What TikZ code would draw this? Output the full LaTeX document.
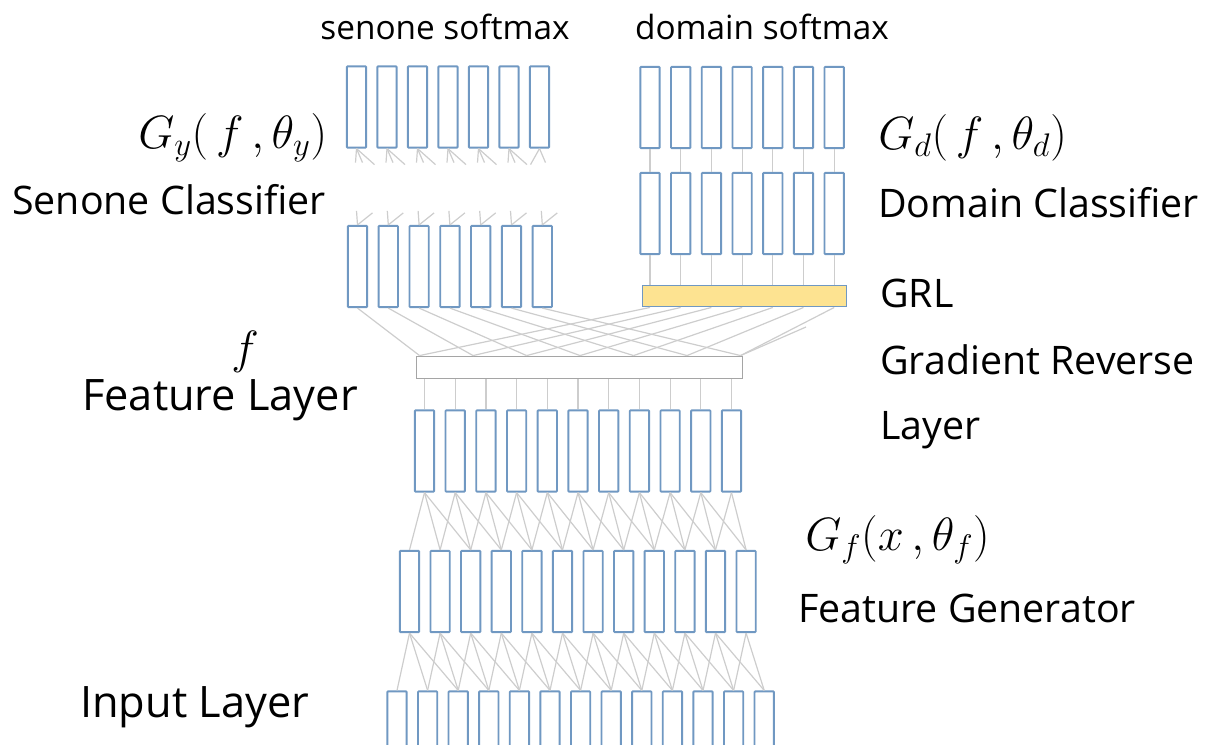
\RequirePackage{fix-cm}
\documentclass[tikz,border=0pt]{standalone}
\usepackage{fontspec}
\setmainfont{Open Sans}
\usetikzlibrary{calc}
\definecolor{boxblue}{RGB}{112,152,194}
\definecolor{wire}{RGB}{205,205,205}
\definecolor{grlfill}{RGB}{253,227,145}
\definecolor{bargray}{RGB}{165,165,165}
\tikzset{
  unit/.style={draw=boxblue, line width=1.4pt, fill=white, minimum width=14.5pt, minimum height=61pt, inner sep=0pt, rounded corners=0.6pt},
  wireline/.style={draw=wire, line width=0.9pt},
  lbl/.style={font=\fontsize{29.5}{33}\selectfont, inner sep=0pt, anchor=west},
  biglbl/.style={font=\fontsize{32.5}{36}\selectfont, inner sep=0pt, anchor=west},
  toplbl/.style={font=\fontsize{25}{29}\selectfont, inner sep=0pt},
  mlbl/.style={font=\fontsize{35}{39}\selectfont, inner sep=0pt, anchor=west},
}
\begin{document}
\begin{tikzpicture}[x=0.75pt,y=-0.75pt]
\useasboundingbox (0,0) rectangle (1205,745);
\clip (0,0) rectangle (1205,745);
% boxes
\foreach \i in {0,...,6} {
  \node[unit] (st\i) at ({356.5+30.5*\i},107) {};
  \node[unit] (sl\i) at ({357.5+30.8*\i},266.5) {};
  \node[unit] (dt\i) at ({650+30.7*\i},107.5) {};
  \node[unit] (dm\i) at ({650+30.7*\i},213.5) {};
}
\node[draw=boxblue, line width=1.2pt, fill=grlfill, minimum width=153pt, minimum height=16pt, inner sep=0pt] (grl) at (744.5,296) {};
\node[draw=bargray, line width=0.9pt, minimum width=245pt, minimum height=17pt, inner sep=0pt] (fb) at (579.5,367.5) {};
\foreach \i in {0,...,10} \node[unit] (fl\i) at ({424.5+30.7*\i},451) {};
\foreach \i in {0,...,11} \node[unit] (fg\i) at ({409.5+30.6*\i},591.5) {};
\foreach \i in {0,...,12} \node[unit] (in\i) at ({397+30.6*\i},732) {};
% points on the feature bar
\foreach \k in {0,...,6} \path (fb.north west) ++({4+53.5*\k},0) coordinate (p\k);
\coordinate (xr) at (806,327);
% wires
\foreach \i in {0,...,6} {
  \ifnum\i<6
    \draw[wireline] (st\i.south) -- ++(-1,14);
    \draw[wireline] (st\i.south) -- ++(6,14);
    \draw[wireline] (st\i.south) -- ++(18,16);
  \else
    \draw[wireline] (st\i.south) -- ++(-9,16);
    \draw[wireline] (st\i.south) -- ++(6,14);
  \fi
  \draw[wireline] (sl\i.north) -- ++(-1,-14);
  \draw[wireline] (sl\i.north) -- ++(15,-12);
  \draw[wireline] (dt\i.south) -- (dm\i.north);
  \draw[wireline] (dm\i.south) -- (dm\i.south |- grl.north);
  \draw[wireline] (sl\i.south) -- (p\i);
  \draw[wireline] (dm\i.south |- grl.south) -- (p\i);
}
\draw[wireline] (xr) -- (p6);
\foreach \i in {0,...,10} \draw[wireline] (fl\i.north |- fb.south) -- (fl\i.north);
\foreach \i in {0,...,10} {
  \foreach \d in {0,1,2} {
    \pgfmathtruncatemacro\j{\i+\d}
    \ifnum\j<12 \draw[wireline] (fl\i.south) -- (fg\j.north); \fi
  }
}
\foreach \i in {0,...,11} {
  \foreach \d in {0,1,2} {
    \pgfmathtruncatemacro\j{\i+\d}
    \ifnum\j<13 \draw[wireline] (fg\i.south) -- (in\j.north); \fi
  }
}
% labels
\node[toplbl] (t1) at (445,27) {senone softmax};
\node[toplbl] (t2) at (762,27) {domain softmax};
\node[mlbl] (gy) at (138,138) {$G_y(\,f\,,\theta_y)$};
\node[lbl] (sc) at (12,200) {Senone Classifier};
\node[mlbl] (gd) at (878,138) {$G_d(\,f\,,\theta_d)$};
\node[lbl] (dc) at (878,203) {Domain Classifier};
\node[lbl] (grlt) at (880,293) {GRL};
\node[lbl] (gr1) at (880,360) {Gradient Reverse};
\node[lbl] (gr2) at (880,430) {Layer};
\node[mlbl, anchor=center] (ft) at (245,352) {$f$};
\node[biglbl] (fl) at (82,400) {Feature Layer};
\node[mlbl] (gf) at (805,540) {$G_f(x\,,\theta_f)$};
\node[lbl] (fgt) at (798,608) {Feature Generator};
\node[biglbl] (il) at (80,707) {Input Layer};
\end{tikzpicture}
\end{document}
